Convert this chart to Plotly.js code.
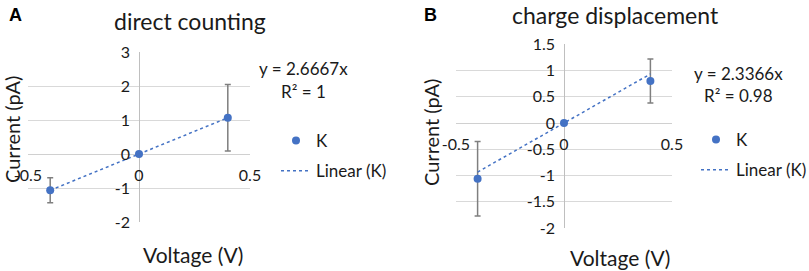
<!DOCTYPE html>
<html><head><meta charset="utf-8">
<script src="https://cdn.plot.ly/plotly-3.0.1.min.js"></script>
<style>html,body{margin:0;padding:0;background:#fff}#chart{width:809px;height:271px}</style>
</head><body><div id="chart"></div>
<script>
// Panel A: direct counting
const voltageA = [-0.4, 0, 0.4];
const currentA = [-1.0667, 0, 1.0667];
const errorA = [0.37, 0, 0.98];
const slopeA = 2.6667;
const eqA = "y = 2.6667x";
const r2A = "R² = 1";
// Panel B: charge displacement
const voltageB = [-0.4, 0, 0.4];
const currentB = [-1.06, 0, 0.80];
const errorB = [0.71, 0, 0.42];
const slopeB = 2.3366;
const eqB = "y = 2.3366x";
const r2B = "R² = 0.98";
const xTicks = [-0.5, 0, 0.5];
const yTicksA = [-2, -1, 0, 1, 2, 3];
const yTicksB = [-2, -1.5, -1, -0.5, 0, 0.5, 1, 1.5];

const blue = '#4472C4', gray = '#7f7f7f', txt = '#1a1a1a';
const F = 'Lato, "Open Sans", sans-serif';
const W = 809, H = 271;
const px = v => v / W, py = v => (H - v) / H;

function trend(xs, s) {
  const lo = Math.min(...xs), hi = Math.max(...xs);
  return {x: [lo, hi], y: [s * lo, s * hi]};
}
const tA = trend(voltageA, slopeA), tB = trend(voltageB, slopeB);

const traces = [
  {x: voltageA, y: currentA, type: 'scatter', mode: 'markers', name: 'K', xaxis: 'x', yaxis: 'y',
   marker: {color: blue, size: 8}, legend: 'legend', legendgroup: 'a1',
   error_y: {type: 'data', array: errorA, visible: true, color: gray, thickness: 1.5, width: 3}},
  {x: tA.x, y: tA.y, type: 'scatter', mode: 'lines', name: 'Linear (K)', xaxis: 'x', yaxis: 'y',
   line: {color: blue, width: 1.5, dash: 'dot'}, legend: 'legend', legendgroup: 'a2'},
  {x: voltageB, y: currentB, type: 'scatter', mode: 'markers', name: 'K', xaxis: 'x2', yaxis: 'y2',
   marker: {color: blue, size: 8}, legend: 'legend2', legendgroup: 'b1',
   error_y: {type: 'data', array: errorB, visible: true, color: gray, thickness: 1.5, width: 3}},
  {x: tB.x, y: tB.y, type: 'scatter', mode: 'lines', name: 'Linear (K)', xaxis: 'x2', yaxis: 'y2',
   line: {color: blue, width: 1.5, dash: 'dot'}, legend: 'legend2', legendgroup: 'b2'}
];

const tickFont = {family: F, size: 16, color: txt};
function xax(dom, pos) {
  return {domain: dom, range: [-0.5, 0.5], anchor: 'free', position: pos, tickvals: xTicks,
    ticktext: xTicks.map(String), showgrid: false, zeroline: true, zerolinecolor: '#bfbfbf', zerolinewidth: 1,
    showline: false, ticks: '', tickfont: tickFont, ticklabelstandoff: 10, fixedrange: true, automargin: false};
}
function yax(dom, range, ticks, pos) {
  return {domain: dom, range: range, anchor: 'free', position: pos, tickvals: ticks,
    ticktext: ticks.map(String), showgrid: true, gridcolor: '#d9d9d9', gridwidth: 1, zeroline: true,
    zerolinecolor: '#d0d0d0', zerolinewidth: 1, showline: false, ticks: '', tickfont: tickFont,
    ticklabelstandoff: 9, fixedrange: true, automargin: false};
}

const ann = (x, y, text, size, extra) => Object.assign({xref: 'paper', yref: 'paper', x: px(x), y: py(y),
  text: text, showarrow: false, xanchor: 'center', yanchor: 'middle', font: {family: F, size: size, color: txt}}, extra || {});

const legFont = {family: F, size: 17, color: txt};
const layout = {
  width: W, height: H, margin: {l: 0, r: 0, t: 0, b: 0, autoexpand: false}, paper_bgcolor: '#fff', plot_bgcolor: '#fff',
  xaxis: xax([px(28), px(250)], py(154)),
  yaxis: yax([py(222), py(52)], [-2, 3], yTicksA, px(139)),
  xaxis2: xax([px(456), px(672)], py(122.7)),
  yaxis2: yax([py(228), py(44.3)], [-2, 1.5], yTicksB, px(564)),
  showlegend: true,
  legend: {x: px(276), y: py(123), xanchor: 'left', yanchor: 'top', font: legFont,
    tracegroupgap: 5, bgcolor: 'rgba(0,0,0,0)'},
  legend2: {x: px(696), y: py(122), xanchor: 'left', yanchor: 'top', font: legFont,
    tracegroupgap: 5, bgcolor: 'rgba(0,0,0,0)'},
  annotations: [
    ann(16, 15, '<b>A</b>', 18, {font: {family: 'Liberation Sans, Arial', size: 18, color: '#000'}}),
    ann(190, 21, 'direct counting', 23),
    ann(12, 130, 'Current (pA)', 20, {textangle: -90}),
    ann(193, 254, 'Voltage (V)', 21),
    ann(303, 68, eqA, 17),
    ann(303, 92, r2A, 17),
    ann(430, 15, '<b>B</b>', 18, {font: {family: 'Liberation Sans, Arial', size: 18, color: '#000'}}),
    ann(615, 15, 'charge displacement', 23),
    ann(431, 133, 'Current (pA)', 20, {textangle: -90}),
    ann(620, 257, 'Voltage (V)', 21),
    ann(738, 73, eqB, 17),
    ann(738, 95, r2B, 17)
  ]
};
Plotly.newPlot('chart', traces, layout, {staticPlot: true, displayModeBar: false});
</script></body></html>
